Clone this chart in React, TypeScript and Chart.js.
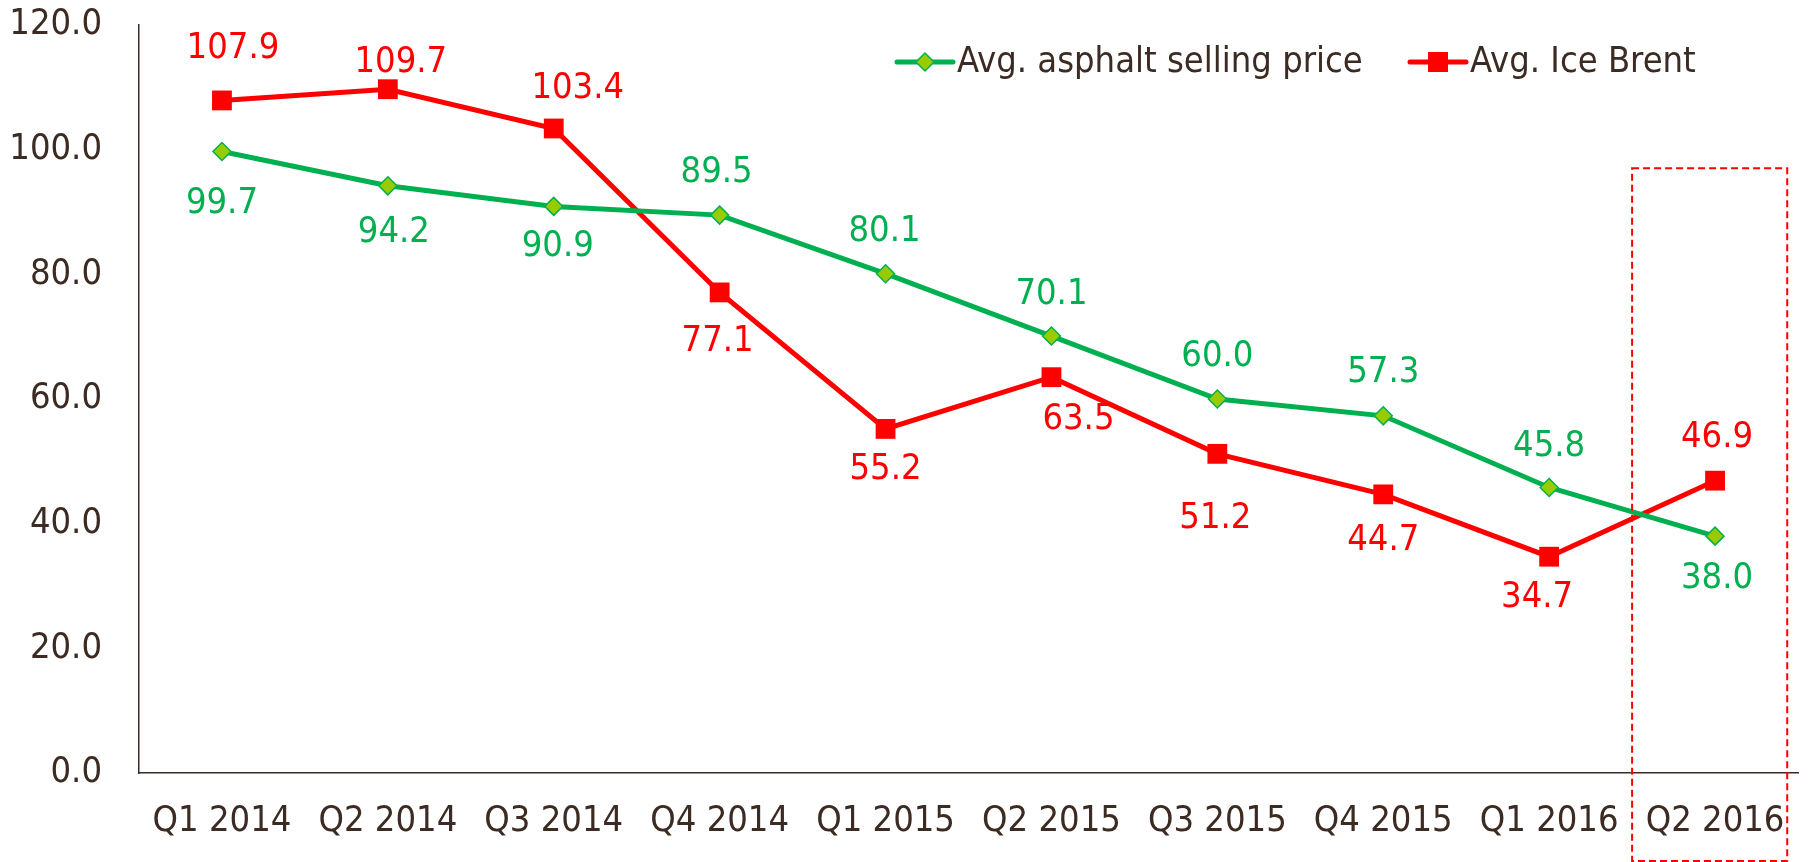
import React, { useEffect, useRef } from "react";
import { Chart, registerables } from "chart.js";

Chart.register(...registerables);

const categories = ["Q1 2014", "Q2 2014", "Q3 2014", "Q4 2014", "Q1 2015", "Q2 2015", "Q3 2015", "Q4 2015", "Q1 2016", "Q2 2016"];
const asphaltPrice = [99.7, 94.2, 90.9, 89.5, 80.1, 70.1, 60.0, 57.3, 45.8, 38.0];
const iceBrent = [107.9, 109.7, 103.4, 77.1, 55.2, 63.5, 51.2, 44.7, 34.7, 46.9];
const yTicks = [0, 20, 40, 60, 80, 100, 120];

// data-label placement relative to each point (px): [dx, dy]
const asphaltLabelOffset = [[0, 52], [6, 47], [4, 40], [-3, -42], [-1, -42], [0, -41], [0, -42], [0, -43], [0, -41], [2, 43]];
const brentLabelOffset = [[11, -52], [13, -27], [24, -40], [-2, 49], [0, 41], [27, 42], [-2, 65], [0, 46], [-12, 41], [2, -43]];

const FONT = "'DejaVu Sans Condensed', 'DejaVu Sans', sans-serif";
const TEXT = "#3b2b22";
const GREEN = "#00b050";
const GREEN_FILL = "#99cc00";
const RED = "#ff0000";

const dataLabelPlugin = {
  id: "dataLabels",
  afterDatasetsDraw(chart: any) {
    const ctx = chart.ctx;
    const offs = [asphaltLabelOffset, brentLabelOffset];
    const colors = [GREEN, RED];
    ctx.save();
    ctx.font = `36px ${FONT}`;
    ctx.textAlign = "center";
    ctx.textBaseline = "middle";
    chart.data.datasets.forEach((ds: any, di: number) => {
      const meta = chart.getDatasetMeta(di);
      ctx.fillStyle = colors[di];
      meta.data.forEach((pt: any, i: number) => {
        const v = ds.data[i];
        const [dx, dy] = offs[di][i];
        ctx.fillText(v.toFixed(1), pt.x + dx, pt.y + dy);
      });
    });
    ctx.restore();
  },
};

const boxPlugin = {
  id: "highlightBox",
  afterDraw(chart: any) {
    const ctx = chart.ctx;
    const xs = chart.scales.x;
    const ys = chart.scales.y;
    const last = categories.length - 1;
    const half = (xs.getPixelForValue(last) - xs.getPixelForValue(last - 1)) / 2;
    const left = xs.getPixelForValue(last) - half;
    const right = xs.getPixelForValue(last) + half * 0.87;
    const top = ys.getPixelForValue(97);
    const bottom = chart.height;
    ctx.save();
    ctx.strokeStyle = RED;
    ctx.lineWidth = 2;
    ctx.setLineDash([7, 4]);
    ctx.strokeRect(left, top, right - left, bottom - top - 1);
    ctx.restore();
  },
};

const legendPlugin = {
  id: "customLegend",
  afterDraw(chart: any) {
    const ctx = chart.ctx;
    const y = 62;
    const items = [
      { x: 897, label: "Avg. asphalt selling price", color: GREEN, fill: GREEN_FILL, shape: "diamond" },
      { x: 1410, label: "Avg. Ice Brent", color: RED, fill: RED, shape: "square" },
    ];
    ctx.save();
    items.forEach((it) => {
      ctx.strokeStyle = it.color;
      ctx.lineWidth = 5;
      ctx.lineCap = "round";
      ctx.beginPath();
      ctx.moveTo(it.x, y);
      ctx.lineTo(it.x + 56, y);
      ctx.stroke();
      const cx = it.x + 28;
      ctx.fillStyle = it.fill;
      if (it.shape === "diamond") {
        ctx.beginPath();
        ctx.moveTo(cx - 9, y);
        ctx.lineTo(cx, y - 9);
        ctx.lineTo(cx + 9, y);
        ctx.lineTo(cx, y + 9);
        ctx.closePath();
        ctx.fill();
        ctx.lineWidth = 1.5;
        ctx.strokeStyle = GREEN;
        ctx.stroke();
      } else {
        ctx.fillRect(cx - 10, y - 10, 20, 20);
      }
      ctx.fillStyle = TEXT;
      ctx.font = `36px ${FONT}`;
      ctx.textAlign = "left";
      ctx.textBaseline = "middle";
      ctx.fillText(it.label, it.x + 60, y + 1);
    });
    ctx.restore();
  },
};

export default function App() {
  const ref = useRef<HTMLCanvasElement>(null);
  useEffect(() => {
    if (!ref.current) return;
    const chart = new Chart(ref.current, {
      type: "line",
      data: {
        labels: categories,
        datasets: [
          {
            label: "Avg. asphalt selling price",
            data: asphaltPrice,
            borderColor: GREEN,
            borderWidth: 5,
            backgroundColor: GREEN_FILL,
            pointStyle: "rectRot",
            pointRadius: 9,
            pointBackgroundColor: GREEN_FILL,
            pointBorderColor: GREEN,
            pointBorderWidth: 1.5,
            tension: 0,
          },
          {
            label: "Avg. Ice Brent",
            data: iceBrent,
            borderColor: RED,
            borderWidth: 5,
            backgroundColor: RED,
            pointStyle: "rect",
            pointRadius: 14,
            pointBackgroundColor: RED,
            pointBorderColor: RED,
            pointBorderWidth: 0,
            tension: 0,
          },
        ],
      },
      options: {
        responsive: false,
        animation: false,
        layout: { autoPadding: false, padding: { top: 25, right: 10, left: 0, bottom: 0 } },
        plugins: { legend: { display: false }, tooltip: { enabled: false } },
        scales: {
          x: {
            offset: true,
            grid: { display: false, drawTicks: false },
            border: { display: true, color: TEXT, width: 1.5 },
            ticks: { color: TEXT, font: { family: FONT, size: 36 }, padding: 27, maxRotation: 0, autoSkip: false },
            afterFit(scale: any) {
              scale.height = 89;
              scale.paddingLeft = 0;
              scale.paddingRight = 0;
            },
          },
          y: {
            min: 0,
            max: 120,
            grid: { display: false, drawTicks: false },
            border: { display: true, color: TEXT, width: 1.5 },
            afterBuildTicks(scale: any) {
              scale.ticks = yTicks.map((v) => ({ value: v }));
            },
            ticks: {
              color: TEXT,
              font: { family: FONT, size: 36 },
              padding: 37,
              callback: (v: any) => Number(v).toFixed(1),
            },
            afterFit(scale: any) {
              scale.width = 139;
              scale.paddingTop = 0;
              scale.paddingBottom = 0;
            },
          },
        },
      },
      plugins: [dataLabelPlugin, boxPlugin, legendPlugin],
    });
    return () => chart.destroy();
  }, []);
  return (
    <div style={{ position: "fixed", left: 0, top: 0, width: 1808, height: 862, background: "#fff" }}>
      <canvas ref={ref} width={1808} height={862} />
    </div>
  );
}
